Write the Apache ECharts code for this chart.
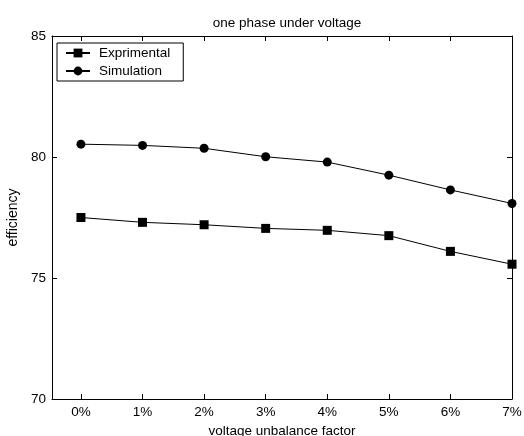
<!DOCTYPE html>
<html>
<head>
<meta charset="utf-8">
<script src="https://cdn.jsdelivr.net/npm/echarts@6/dist/echarts.min.js"></script>
<style>
  html, body { margin: 0; padding: 0; background: #fff; overflow: hidden; }
  #chart { width: 524px; height: 436px; }
</style>
</head>
<body>
<div id="chart"></div>
<script>
// voltage unbalance factor, in percent
const factors = [0, 1, 2, 3, 4, 5, 6, 7];
const tickLabels = ['0%', '1%', '2%', '3%', '4%', '5%', '6%', '7%'];
// efficiency readings
const experimental = [77.5, 77.3, 77.2, 77.05, 76.97, 76.75, 76.1, 75.57];
const simulation = [80.53, 80.48, 80.36, 80.01, 79.79, 79.25, 78.64, 78.08];
const yTicks = [70, 75, 80, 85];

const font = 'Liberation Sans, Arial, sans-serif';
const toPairs = (vals) => factors.map((f, i) => [f, vals[i]]);

const chart = echarts.init(document.getElementById('chart'), null, { renderer: 'canvas' });

const xCommon = {
  type: 'value',
  min: -0.47,
  max: 7,
  splitLine: { show: false },
  axisLine: { show: true, onZero: false, lineStyle: { color: '#000', width: 1 } },
  axisTick: { show: true, inside: true, length: 5, customValues: factors, lineStyle: { color: '#000' } }
};
const yCommon = {
  type: 'value',
  min: 70,
  max: 85,
  interval: 5,
  splitLine: { show: false },
  axisLine: { show: true, onZero: false, lineStyle: { color: '#000', width: 1 } },
  axisTick: { show: true, inside: true, length: 5, lineStyle: { color: '#000' } }
};

chart.setOption({
  animation: false,
  backgroundColor: '#fff',
  textStyle: { fontFamily: font, color: '#000' },
  title: {
    text: 'one phase under voltage',
    left: 282,
    top: 11,
    textAlign: 'center',
    textStyle: { fontFamily: font, fontSize: 13.5, fontWeight: 'normal', color: '#000' }
  },
  legend: {
    orient: 'vertical',
    left: 57,
    top: 43,
    padding: [3, 13, 3, 8],
    itemGap: 4,
    itemWidth: 24,
    itemHeight: 11,
    borderColor: '#000',
    borderWidth: 1,
    backgroundColor: '#fff',
    textStyle: { fontFamily: font, fontSize: 13.5, color: '#000', padding: [0, 0, 0, 4] },
    data: ['Exprimental', 'Simulation']
  },
  grid: { left: 52, right: 12, top: 36, bottom: 37, containLabel: false, outerBoundsMode: 'none' },
  xAxis: [
    Object.assign({}, xCommon, {
      position: 'bottom',
      name: 'voltage unbalance factor',
      nameLocation: 'middle',
      nameGap: 24,
      nameTextStyle: { fontFamily: font, fontSize: 13.5, color: '#000' },
      axisLabel: {
        customValues: factors,
        formatter: (v) => tickLabels[factors.indexOf(v)],
        fontFamily: font, fontSize: 13.5, color: '#000', margin: 6
      }
    }),
    Object.assign({}, xCommon, { position: 'top', axisLabel: { show: false } })
  ],
  yAxis: [
    Object.assign({}, yCommon, {
      position: 'left',
      name: 'efficiency',
      nameLocation: 'middle',
      nameGap: 31,
      nameTextStyle: { fontFamily: font, fontSize: 14, color: '#000' },
      axisLabel: {
        formatter: (v) => (yTicks.includes(v) ? String(v) : ''),
        fontFamily: font, fontSize: 13.5, color: '#000', margin: 6
      }
    }),
    Object.assign({}, yCommon, { position: 'right', axisLabel: { show: false } })
  ],
  series: [
    {
      name: 'Exprimental',
      type: 'line',
      data: toPairs(experimental),
      symbol: 'rect',
      symbolSize: 9,
      itemStyle: { color: '#000' },
      lineStyle: { color: '#000', width: 1 },
      z: 3
    },
    {
      name: 'Simulation',
      type: 'line',
      data: toPairs(simulation),
      symbol: 'circle',
      symbolSize: 9,
      itemStyle: { color: '#000' },
      lineStyle: { color: '#000', width: 1 },
      z: 3
    }
  ]
});
</script>
</body>
</html>
